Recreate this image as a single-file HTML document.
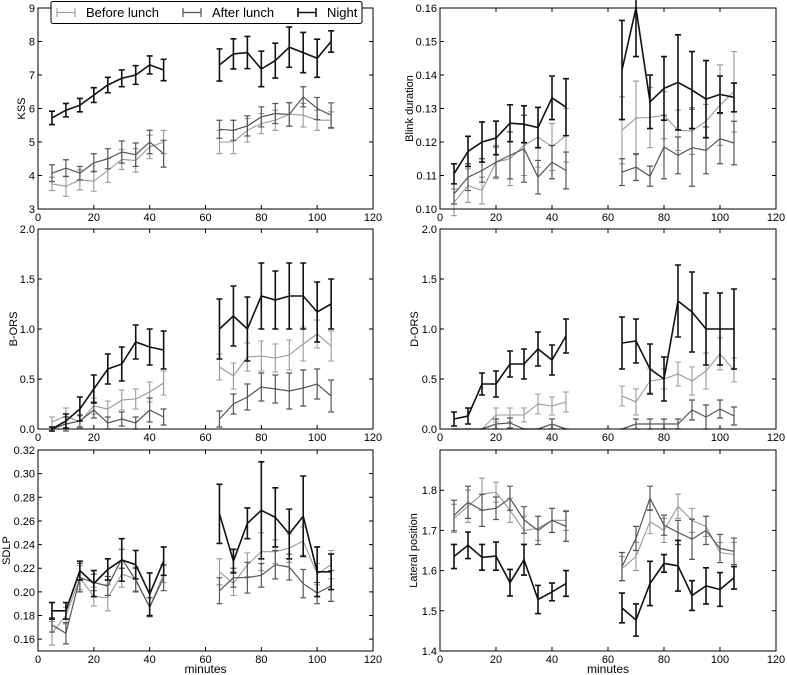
<!DOCTYPE html>
<html><head><meta charset="utf-8">
<style>
html,body{margin:0;padding:0;background:#fff;}
svg{display:block;font-family:"Liberation Sans","DejaVu Sans",sans-serif;}
</style></head>
<body>
<svg id="chart" width="787" height="675" viewBox="0 0 787 675" xmlns="http://www.w3.org/2000/svg"></svg>
<script>
const minutes=[5,10,15,20,25,30,35,40,45,65,70,75,80,85,90,95,100,105];
const seriesNames=["Before lunch","After lunch","Night"];
const xTicks=[0,20,40,60,80,100,120];

const kssBefore=[3.75,3.68,3.87,3.83,4.15,4.48,4.45,4.85,5.0,5.0,5.0,5.35,5.55,5.65,5.83,5.8,5.65,5.65];
const kssBeforeErr=[0.2,0.3,0.3,0.3,0.35,0.3,0.35,0.35,0.35,0.35,0.35,0.35,0.3,0.3,0.35,0.35,0.3,0.25];
const kssAfter=[4.07,4.22,4.07,4.38,4.5,4.7,4.62,5.0,4.65,5.38,5.35,5.48,5.75,5.85,5.82,6.35,6.0,5.8];
const kssAfterErr=[0.25,0.25,0.2,0.27,0.3,0.33,0.35,0.35,0.4,0.27,0.3,0.3,0.3,0.3,0.35,0.3,0.33,0.37];
const kssNight=[5.72,5.95,6.1,6.4,6.7,6.9,7.0,7.3,7.15,7.3,7.63,7.67,7.18,7.43,7.83,7.67,7.5,8.0];
const kssNightErr=[0.2,0.2,0.2,0.22,0.23,0.25,0.28,0.27,0.32,0.48,0.45,0.48,0.53,0.52,0.6,0.6,0.57,0.32];
const kssTicks=[3,4,5,6,7,8,9];

const blinkBefore=[0.102,0.107,0.1055,0.114,0.115,0.119,0.1215,0.1185,0.122,0.1235,0.1272,0.1273,0.128,0.1235,0.1233,0.1262,0.131,0.135];
const blinkBeforeErr=[0.004,0.005,0.004,0.005,0.008,0.009,0.009,0.007,0.008,0.01,0.011,0.009,0.007,0.006,0.007,0.005,0.012,0.012];
const blinkAfter=[0.1045,0.1095,0.1115,0.114,0.116,0.118,0.1095,0.114,0.1115,0.111,0.1125,0.1098,0.1185,0.116,0.1183,0.1175,0.121,0.1197];
const blinkAfterErr=[0.003,0.004,0.0035,0.0045,0.007,0.01,0.005,0.005,0.0055,0.004,0.004,0.003,0.0095,0.0055,0.0115,0.007,0.0075,0.0065];
const blinkNight=[0.1105,0.1172,0.12,0.1212,0.1256,0.1253,0.1243,0.1332,0.1304,0.1415,0.16,0.132,0.136,0.1378,0.1355,0.1328,0.1342,0.1333];
const blinkNightErr=[0.003,0.0045,0.006,0.005,0.0055,0.0055,0.006,0.0065,0.0085,0.0148,0.0145,0.008,0.0095,0.0142,0.0115,0.0115,0.0055,0.0043];
const blinkTicks=[0.10,0.11,0.12,0.13,0.14,0.15,0.16];

const borsBefore=[0.07,0.13,0.07,0.23,0.2,0.29,0.3,0.37,0.46,0.62,0.53,0.72,0.73,0.71,0.74,0.85,0.95,0.83];
const borsBeforeErr=[0.05,0.08,0.06,0.08,0.08,0.1,0.1,0.1,0.12,0.13,0.13,0.14,0.15,0.14,0.15,0.17,0.14,0.15];
const borsAfter=[0,0.05,0.08,0.19,0.06,0.1,0.06,0.19,0.12,0.1,0.25,0.32,0.42,0.4,0.38,0.41,0.45,0.33];
const borsAfterErr=[0.02,0.07,0.06,0.08,0.06,0.07,0.06,0.12,0.08,0.08,0.1,0.13,0.14,0.14,0.18,0.18,0.15,0.16];
const borsNight=[0,0.08,0.2,0.4,0.6,0.65,0.87,0.82,0.79,1.0,1.13,1.0,1.33,1.29,1.33,1.33,1.17,1.25];
const borsNightErr=[0.02,0.07,0.12,0.14,0.15,0.17,0.17,0.18,0.19,0.3,0.3,0.32,0.33,0.29,0.33,0.33,0.3,0.25];
const orsTicks=[0.0,0.5,1.0,1.5,2.0];

const dorsBefore=[0,0,0,0.14,0.14,0.14,0.25,0.23,0.27,0.33,0.27,0.48,0.5,0.55,0.48,0.58,0.75,0.59];
const dorsBeforeErr=[0,0,0,0.07,0.07,0.07,0.1,0.09,0.1,0.1,0.13,0.12,0.1,0.12,0.14,0.18,0.16,0.12];
const dorsAfter=[0,0,0,0.05,0.06,0,0,0.05,0,0,0.05,0.05,0.05,0.05,0.19,0.12,0.2,0.13];
const dorsAfterErr=[0,0,0,0.05,0.05,0,0,0.05,0,0,0.05,0.05,0.05,0.05,0.1,0.12,0.09,0.09];
const dorsNight=[0.1,0.13,0.45,0.45,0.65,0.65,0.8,0.69,0.93,0.86,0.88,0.6,0.5,1.28,1.17,1.0,1.0,1.0];
const dorsNightErr=[0.07,0.08,0.11,0.13,0.13,0.15,0.17,0.15,0.17,0.26,0.22,0.25,0.22,0.36,0.4,0.36,0.36,0.4];

const sdlpBefore=[0.165,0.18,0.212,0.196,0.195,0.215,0.211,0.187,0.215,0.217,0.207,0.223,0.234,0.234,0.237,0.243,0.215,0.223];
const sdlpBeforeErr=[0.01,0.007,0.01,0.008,0.011,0.011,0.01,0.008,0.007,0.011,0.01,0.01,0.016,0.01,0.012,0.012,0.009,0.012];
const sdlpAfter=[0.172,0.165,0.212,0.208,0.205,0.228,0.21,0.187,0.212,0.201,0.212,0.212,0.214,0.223,0.221,0.207,0.199,0.205];
const sdlpAfterErr=[0.006,0.009,0.012,0.007,0.008,0.008,0.01,0.008,0.011,0.011,0.008,0.013,0.01,0.012,0.011,0.012,0.009,0.013];
const sdlpNight=[0.184,0.184,0.218,0.207,0.219,0.227,0.223,0.198,0.226,0.266,0.226,0.258,0.269,0.263,0.249,0.264,0.217,0.217];
const sdlpNightErr=[0.007,0.007,0.008,0.011,0.009,0.018,0.012,0.018,0.012,0.025,0.01,0.013,0.041,0.025,0.021,0.034,0.021,0.015];
const sdlpTicks=[0.16,0.18,0.20,0.22,0.24,0.26,0.28,0.30,0.32];

const latBefore=[1.73,1.76,1.79,1.795,1.75,1.70,1.705,1.725,1.725,1.605,1.635,1.722,1.70,1.76,1.725,1.71,1.645,1.64];
const latBeforeErr=[0.035,0.04,0.04,0.025,0.03,0.035,0.03,0.03,0.025,0.03,0.035,0.03,0.03,0.03,0.03,0.025,0.025,0.03];
const latAfter=[1.737,1.77,1.75,1.755,1.78,1.726,1.70,1.725,1.71,1.61,1.68,1.78,1.713,1.695,1.678,1.70,1.655,1.648];
const latAfterErr=[0.038,0.04,0.04,0.028,0.03,0.033,0.035,0.03,0.037,0.035,0.03,0.03,0.025,0.03,0.05,0.035,0.035,0.033];
const latNight=[1.635,1.663,1.633,1.636,1.57,1.627,1.528,1.547,1.568,1.507,1.477,1.568,1.618,1.612,1.538,1.562,1.553,1.582];
const latNightErr=[0.03,0.033,0.032,0.035,0.033,0.038,0.035,0.022,0.032,0.037,0.04,0.055,0.022,0.063,0.037,0.045,0.042,0.028];
const latTicks=[1.4,1.5,1.6,1.7,1.8];

const NS="http://www.w3.org/2000/svg";
const svg=document.getElementById("chart");
const colors=["#999999","#555555","#111111"];
const widths=[1.1,1.2,1.6];
function mk(tag,attrs,parent){const e=document.createElementNS(NS,tag);for(const k in attrs)e.setAttribute(k,attrs[k]);(parent||svg).appendChild(e);return e;}

function panel(name,L,T,R,B,ymin,ymax,yTicks,dec,label,labelX,series,errs,showMinutes){
  const g=mk("g",{});
  
  
  const xs=v=>L+(v-0)/(120-0)*(R-L);
  const ys=v=>B-(v-ymin)/(ymax-ymin)*(B-T);
  series.forEach((vals,si)=>{
    const sg=mk("g",{},g);
    
    
    const err=errs[si];
    let segs=[[],[]];
    minutes.forEach((m,i)=>{segs[m<55?0:1].push([xs(m),ys(vals[i])]);});
    segs.forEach(s=>{
      const p=mk("polyline",{points:s.map(q=>q[0].toFixed(1)+","+q[1].toFixed(1)).join(" "),fill:"none",stroke:colors[si],"stroke-width":widths[si],"stroke-linejoin":"miter"},sg);
      
      
    });
    minutes.forEach((m,i)=>{
      const x=xs(m),y1=ys(vals[i]-err[i]),y2=ys(vals[i]+err[i]);
      const eb=mk("path",{d:`M${x},${y1}V${y2}M${x-3},${y1}H${x+3}M${x-3},${y2}H${x+3}`,stroke:colors[si],"stroke-width":widths[si],fill:"none"},sg);
      
      
    });
  });
  const fr=mk("rect",{x:L,y:T,width:R-L,height:B-T,fill:"none",stroke:"#000","stroke-width":1},g);
  
  
  xTicks.forEach(t=>{
    const x=xs(t);
    mk("path",{d:`M${x},${B}v-4M${x},${T}v4`,stroke:"#000","stroke-width":1},g);
    const tx=mk("text",{x:x,y:B+12,"font-size":11,"text-anchor":"middle",fill:"#000"},g);
    tx.textContent=t;
    
    
  });
  yTicks.forEach(t=>{
    const y=ys(t);
    mk("path",{d:`M${L},${y}h4M${R},${y}h-4`,stroke:"#000","stroke-width":1},g);
    const tx=mk("text",{x:L-3,y:y+4,"font-size":11,"text-anchor":"end",fill:"#000"},g);
    tx.textContent=t.toFixed(dec);
    
    
  });
  const yl=mk("text",{x:0,y:0,"font-size":11,"text-anchor":"middle","dominant-baseline":"central",fill:"#000",transform:`translate(${labelX},${(T+B)/2}) rotate(-90)`},g);
  yl.textContent=label;
  
  
  if(showMinutes){
    const xl=mk("text",{x:(L+R)/2,y:B+22,"font-size":12,"text-anchor":"middle",fill:"#000"},g);
    xl.textContent="minutes";
    
    
  }
}

const LL=38,LR=373,RL=440,RR=776;
panel("kss",LL,8,LR,209,3,9,kssTicks,0,"KSS",22,[kssBefore,kssAfter,kssNight],[kssBeforeErr,kssAfterErr,kssNightErr],false);
panel("blink",RL,8,RR,209,0.10,0.16,blinkTicks,2,"Blink duration",410,[blinkBefore,blinkAfter,blinkNight],[blinkBeforeErr,blinkAfterErr,blinkNightErr],false);
panel("bors",LL,229,LR,429,0,2,orsTicks,1,"B-ORS",14,[borsBefore,borsAfter,borsNight],[borsBeforeErr,borsAfterErr,borsNightErr],false);
panel("dors",RL,229,RR,429,0,2,orsTicks,1,"D-ORS",415,[dorsBefore,dorsAfter,dorsNight],[dorsBeforeErr,dorsAfterErr,dorsNightErr],false);
panel("sdlp",LL,450,LR,651,0.15,0.32,sdlpTicks,2,"SDLP",7,[sdlpBefore,sdlpAfter,sdlpNight],[sdlpBeforeErr,sdlpAfterErr,sdlpNightErr],true);
panel("lateral",RL,450,RR,651,1.4,1.9,latTicks,1,"Lateral position",414,[latBefore,latAfter,latNight],[latBeforeErr,latAfterErr,latNightErr],true);

const lg=mk("g",{});


const lb=mk("rect",{x:51,y:1.5,width:311,height:22,rx:2,fill:"#fff",stroke:"#000","stroke-width":1},lg);


const legX=[57,183,298];
seriesNames.forEach((n,i)=>{
  const e=mk("g",{},lg);
  
  
  const x=legX[i];
  mk("path",{d:`M${x},12.5H${x+18}M${x},8V17M${x+18},8V17`,stroke:colors[i],"stroke-width":widths[i],fill:"none"},e);
  const t=mk("text",{x:x+29,y:17,"font-size":13,fill:"#000"},e);
  t.textContent=n;
});
</script>
</body></html>
